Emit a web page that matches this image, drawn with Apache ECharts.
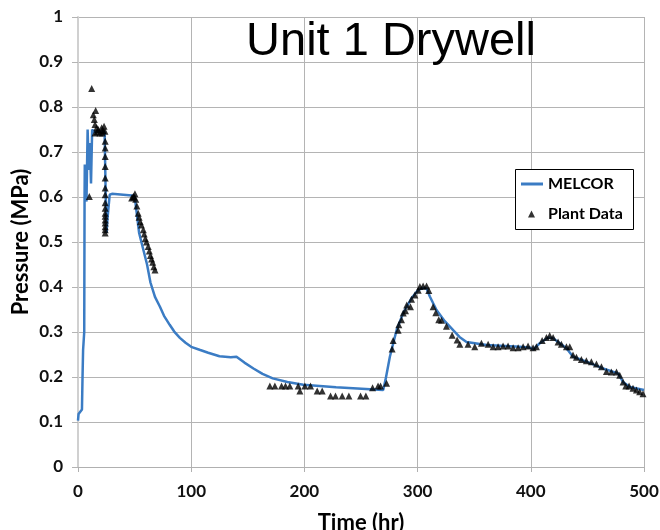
<!DOCTYPE html>
<html>
<head>
    <meta charset="UTF-8">
    <title>Unit 1 Drywell</title>
    <script src="https://cdn.jsdelivr.net/npm/echarts@6/dist/echarts.min.js"></script>
    <style>
        html, body { margin: 0; padding: 0; background: #fff; }
        #chart { width: 660px; height: 530px; }
    </style>
</head>
<body>
    <div id="chart"></div>

    <script>
        // MELCOR calculation: [time (hr), pressure (MPa)]
        var melcorData = [
            [0, 0.103], [0.5, 0.118], [3.5, 0.128], [4, 0.2], [4.5, 0.26], [5, 0.26], [5.5, 0.3],
            [5.8, 0.6], [6, 0.672], [6.5, 0.6], [7.5, 0.59], [8.5, 0.75], [9.5, 0.66], [10.5, 0.72],
            [11.5, 0.63], [12.5, 0.75], [14, 0.745], [20, 0.745], [23.5, 0.745], [24.5, 0.6],
            [25.2, 0.52], [26, 0.55], [28, 0.605], [30, 0.607], [40, 0.605], [50, 0.603],
            [54, 0.52], [58, 0.48], [61, 0.45], [64, 0.41], [68, 0.378], [72.4, 0.356],
            [76, 0.336], [81, 0.316], [85, 0.301], [90, 0.287], [95, 0.276], [100, 0.267],
            [108, 0.26], [115, 0.254], [125, 0.246], [135, 0.244], [140, 0.245],
            [147, 0.232], [155, 0.219], [163, 0.207], [172, 0.197], [185, 0.189], [199, 0.183],
            [228, 0.177], [258, 0.173],
            [269.6, 0.171], [271.6, 0.193], [275.5, 0.245], [281.4, 0.304], [287.2, 0.342],
            [294.6, 0.375], [300.4, 0.393], [305, 0.398], [307.9, 0.397], [310.8, 0.379],
            [316.7, 0.349], [324, 0.324], [331.4, 0.304], [337, 0.289], [343.2, 0.278],
            [360.9, 0.271], [390.3, 0.267],
            [400, 0.265], [402, 0.261], [407.9, 0.275], [415.3, 0.288], [419.7, 0.286],
            [431.5, 0.264], [437.3, 0.245], [449.1, 0.234], [463.8, 0.219], [477, 0.208],
            [481.5, 0.189], [487.4, 0.178], [500, 0.171]
        ];

        // Plant measurements: [time (hr), pressure (MPa)]
        var plantData = [
            [10, 0.601], [12.1, 0.841], [13.5, 0.783], [14.4, 0.772], [15, 0.761], [15.6, 0.792],
            [16.5, 0.754], [15, 0.742], [17, 0.745], [18, 0.75], [19.4, 0.742], [20.9, 0.754],
            [21.5, 0.742], [22, 0.748], [23, 0.757], [23.8, 0.746],
            [24, 0.724], [24, 0.709], [24, 0.69], [24, 0.668], [24, 0.642], [24, 0.62], [24, 0.605],
            [24, 0.587], [24, 0.575], [24, 0.564], [24, 0.557], [24, 0.549], [24, 0.542],
            [24, 0.534], [24, 0.527], [24, 0.52],
            [47.4, 0.598], [48.8, 0.601], [49.5, 0.6], [50.3, 0.607], [51, 0.595], [52, 0.58],
            [53.2, 0.564], [54, 0.555], [55, 0.545], [56, 0.538], [57.7, 0.527], [58.5, 0.518],
            [59.5, 0.508], [60.5, 0.5], [62, 0.49], [63, 0.48], [64, 0.47], [65, 0.462],
            [66, 0.455], [67, 0.445], [68, 0.438],
            [169.5, 0.18], [173.9, 0.18], [179.8, 0.18], [183.3, 0.18], [187.1, 0.18],
            [194.5, 0.18], [196, 0.169], [200.4, 0.18], [205.4, 0.18], [211.3, 0.169],
            [215.7, 0.169], [223.1, 0.158], [227.5, 0.158], [233.4, 0.158], [239.3, 0.158],
            [249.6, 0.158], [254.3, 0.158], [260.2, 0.176], [265.1, 0.18], [267.3, 0.18],
            [272.6, 0.186],
            [277.5, 0.262], [278.4, 0.281], [282.8, 0.304], [283.4, 0.316], [285.8, 0.327],
            [287.3, 0.342], [289.3, 0.347], [290.4, 0.36], [293.7, 0.356], [294.6, 0.373],
            [297.6, 0.382], [300.5, 0.393], [302, 0.401], [304.9, 0.402], [307.9, 0.402],
            [309.9, 0.392],
            [313.7, 0.356], [316.1, 0.343], [318.7, 0.327], [321.1, 0.326], [325.5, 0.313],
            [330.5, 0.293], [334.9, 0.282], [337.3, 0.273], [344.6, 0.273], [350.5, 0.267],
            [356.4, 0.275], [362.3, 0.273], [366.7, 0.267], [371.1, 0.267], [375.5, 0.269],
            [379.9, 0.269], [384.4, 0.265], [388.8, 0.265], [393.2, 0.267], [397.6, 0.269],
            [402, 0.265], [405, 0.267],
            [410, 0.281], [413.8, 0.288], [416.7, 0.292], [419.7, 0.288], [424.1, 0.278],
            [427, 0.273], [431.5, 0.267], [434.4, 0.267],
            [437.3, 0.249], [440.3, 0.244], [444.7, 0.239], [449.1, 0.236], [453.5, 0.234],
            [458, 0.229], [462.4, 0.223], [466.8, 0.212], [471.2, 0.211], [475.7, 0.211],
            [478.6, 0.204], [481.5, 0.189], [483.9, 0.18], [486.8, 0.18], [490.3, 0.175],
            [493.3, 0.171], [496.2, 0.167], [499.1, 0.163]
        ];

        var chart = echarts.init(document.getElementById('chart'));

        var labelFont = { color: '#111', fontWeight: 'bold', fontSize: 17, fontFamily: 'Lato' };
        var legendFont = { color: '#000', fontWeight: 'bold', fontSize: 16, fontFamily: 'Lato' };
        var nameFont = { color: '#000', fontWeight: 'bold', fontSize: 22, fontFamily: 'Lato' };

        var option = {
            animation: false,
            backgroundColor: '#fff',
            title: {
                text: 'Unit 1 Drywell',
                left: 386,
                textAlign: 'center',
                top: 14,
                textStyle: { fontFamily: 'Liberation Sans', fontWeight: 'normal', fontSize: 47, color: '#000' }
            },
            // legend frame
            graphic: [{
                type: 'rect',
                left: 515,
                top: 169,
                z: 10,
                shape: { width: 118, height: 60 },
                style: { fill: '#fff', stroke: '#000', lineWidth: 1 }
            }],
            legend: [
                {
                    left: 521,
                    top: 176,
                    padding: 0,
                    z: 20,
                    icon: 'rect',
                    itemWidth: 22,
                    itemHeight: 3,
                    textStyle: legendFont,
                    data: ['MELCOR']
                },
                {
                    left: 528,
                    top: 206,
                    padding: 0,
                    z: 20,
                    icon: 'triangle',
                    itemWidth: 7,
                    itemHeight: 7,
                    textStyle: Object.assign({ padding: [0, 0, 0, 8] }, legendFont),
                    data: ['Plant Data']
                }
            ],
            grid: { left: 78, right: 16, top: 17, bottom: 63, outerBoundsMode: 'none' },
            xAxis: {
                type: 'value',
                min: 0,
                max: 500,
                interval: 100,
                name: 'Time (hr)',
                nameLocation: 'middle',
                nameGap: 45,
                nameMoveOverlap: false,
                nameTextStyle: nameFont,
                axisLine: { show: true, lineStyle: { color: '#b0b0b0', width: 1 } },
                axisTick: { show: true, length: 5, lineStyle: { color: '#b0b0b0' } },
                axisLabel: Object.assign({ margin: 16 }, labelFont),
                splitLine: { show: true, lineStyle: { color: '#b4b4b4', width: 1 } }
            },
            yAxis: {
                type: 'value',
                min: 0,
                max: 1,
                interval: 0.1,
                name: 'Pressure (MPa)',
                nameLocation: 'middle',
                nameGap: 46,
                nameMoveOverlap: false,
                nameTextStyle: nameFont,
                axisLine: { show: true, lineStyle: { color: '#d0d0d0', width: 2 } },
                axisTick: { show: true, length: 6, lineStyle: { color: '#b4b4b4' } },
                axisLabel: Object.assign({ margin: 15, formatter: function (v) { return String(+v.toFixed(1)); } }, labelFont),
                splitLine: { show: true, lineStyle: { color: '#b4b4b4', width: 1 } }
            },
            series: [
                {
                    name: 'MELCOR',
                    type: 'line',
                    data: melcorData,
                    showSymbol: false,
                    symbol: 'none',
                    lineStyle: { color: '#3b7cc4', width: 2.5 },
                    itemStyle: { color: '#3b7cc4' },
                    z: 2
                },
                {
                    name: 'Plant Data',
                    type: 'scatter',
                    data: plantData,
                    symbol: 'triangle',
                    symbolSize: 7,
                    itemStyle: { color: '#000' },
                    z: 3
                }
            ]
        };

        chart.setOption(option);
    </script>
</body>
</html>
